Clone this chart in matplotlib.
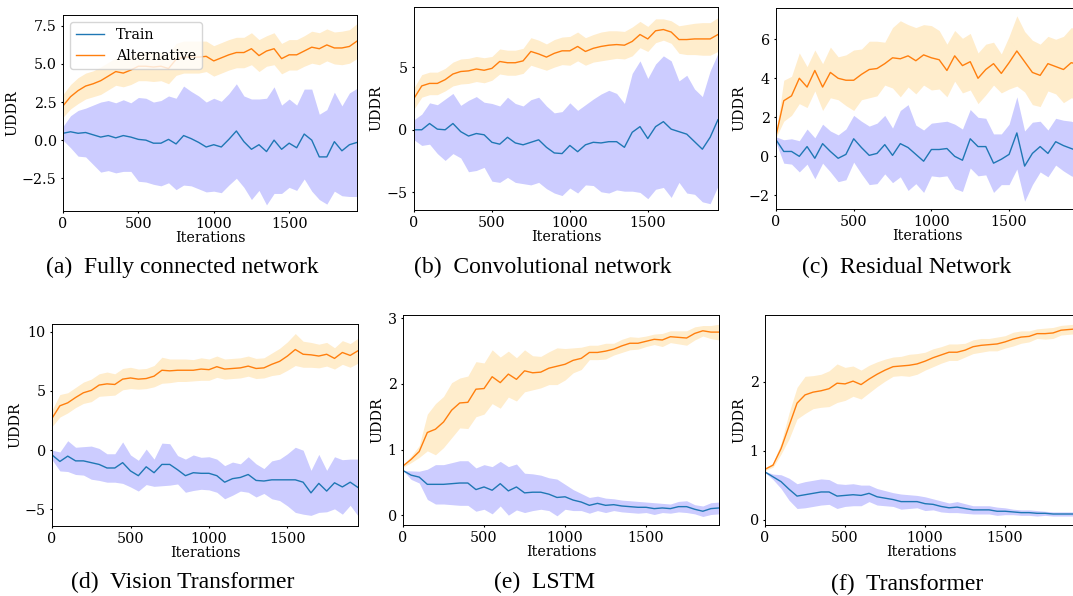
import numpy as np
import matplotlib
matplotlib.use('Agg')
from matplotlib import pyplot as plt

plt.rcParams['font.family'] = 'DejaVu Serif'
plt.rcParams['font.size'] = 10.3
plt.rcParams['xtick.major.size'] = 1.5
plt.rcParams['ytick.major.size'] = 1.5
plt.rcParams['xtick.major.pad'] = 3.0
plt.rcParams['ytick.major.pad'] = 3.0
plt.rcParams['axes.linewidth'] = 0.7

# iterations, one point every 50 steps
iters = np.arange(0, 2000, 50)

# (a) fully connected
fc_train = [0.45, 0.55, 0.45, 0.5, 0.35, 0.2, 0.3, 0.15, 0.3, 0.2, 0.05, 0.0, -0.2, -0.2, 0.05, -0.25, 0.3, 0.1, -0.15, -0.45,
            -0.3, -0.45, 0.05, 0.6, -0.1, -0.6, -0.3, -0.75, 0.0, -0.6, -0.2, -0.5, 0.4, 0.0, -1.1, -1.1, -0.1, -0.7, -0.3, -0.15]
fc_train_sd = [0.45, 1.05, 1.5, 1.6, 1.95, 2.3, 2.3, 2.3, 2.35, 2.25, 2.75, 2.75, 2.7, 2.8, 2.85, 3.0, 3.25, 3.1, 3.05, 2.95,
               3.05, 3.0, 3.0, 3.1, 3.0, 3.3, 3.0, 3.5, 3.5, 2.9, 2.9, 2.8, 2.95, 3.35, 2.8, 3.1, 3.25, 2.95, 3.4, 3.55]
fc_alt = [2.25, 2.85, 3.25, 3.55, 3.7, 3.9, 4.2, 4.5, 4.4, 4.6, 4.85, 4.85, 4.8, 4.85, 4.7, 5.3, 5.45, 5.45, 5.45, 5.5,
          5.2, 5.4, 5.6, 5.75, 5.75, 6.0, 5.55, 5.85, 6.0, 5.35, 5.6, 5.6, 5.85, 6.1, 6.0, 6.25, 6.05, 6.05, 6.15, 6.5]
fc_alt_sd = [0.75, 0.8, 0.85, 0.85, 0.85, 0.9, 0.9, 0.9, 0.9, 0.95, 0.95, 0.95, 0.95, 0.95, 1.0, 1.05, 1.05, 1.05, 1.05, 1.0,
             1.0, 1.0, 1.0, 1.0, 1.0, 1.05, 1.05, 1.0, 1.05, 1.0, 1.0, 1.0, 1.0, 1.05, 1.05, 1.05, 1.05, 1.1, 1.1, 1.15]

# (b) convolutional
cnn_train = [0.0, 0.0, 0.5, 0.05, 0.0, 0.5, -0.15, -0.5, -0.3, -0.4, -1.0, -1.15, -0.6, -1.05, -1.2, -1.0, -0.8, -1.4, -1.85, -1.9,
             -1.25, -1.75, -1.2, -1.0, -1.05, -0.95, -0.95, -1.4, -0.2, 0.25, -0.7, 0.25, 0.65, 0.05, -0.15, -0.35, -0.95, -1.55, -0.6, 0.8]
cnn_train_sd = [0.8, 1.25, 1.65, 1.95, 2.45, 2.4, 2.1, 2.85, 2.95, 2.6, 3.1, 3.05, 3.2, 3.15, 3.1, 3.4, 3.4, 3.3, 3.2, 3.35,
                3.4, 3.3, 3.2, 3.45, 3.9, 4.1, 3.85, 3.5, 4.7, 5.25, 4.8, 5.0, 5.25, 5.45, 4.05, 4.7, 4.2, 4.2, 5.3, 5.3]
cnn_alt = [2.5, 3.5, 3.7, 3.7, 4.0, 4.45, 4.65, 4.7, 4.85, 4.75, 4.9, 5.45, 5.35, 5.35, 5.5, 6.25, 6.05, 5.8, 6.1, 6.3,
           6.3, 6.65, 6.25, 6.5, 6.65, 6.75, 6.8, 6.75, 7.05, 7.6, 7.25, 7.9, 8.0, 7.8, 7.2, 7.2, 7.25, 7.25, 7.25, 7.6]
cnn_alt_sd = [0.85, 0.9, 0.9, 0.9, 0.9, 0.95, 1.0, 1.0, 1.0, 1.0, 0.95, 1.0, 1.0, 1.0, 1.0, 1.1, 1.1, 1.05, 1.1, 1.1,
              1.15, 1.15, 1.1, 1.1, 1.15, 1.15, 1.1, 1.1, 1.15, 1.05, 1.0, 0.95, 0.85, 0.9, 1.1, 1.2, 1.25, 1.3, 1.3, 1.35]

# (c) residual
res_train = [0.85, 0.25, 0.25, 0.0, 0.5, -0.1, 0.65, 0.25, -0.1, 0.1, 0.9, 0.45, 0.05, 0.15, 0.6, 0.05, 0.65, 0.45, 0.1, -0.25,
             0.35, 0.35, 0.4, 0.0, -0.2, 0.9, 0.5, 0.5, -0.35, -0.15, 0.1, 1.2, -0.5, 0.15, 0.5, 0.15, 0.75, 0.55, 0.4, 0.25]
res_train_sd = [0.15, 0.6, 0.65, 0.8, 0.9, 1.05, 1.0, 1.05, 1.2, 1.3, 1.2, 1.35, 1.5, 1.55, 1.5, 1.4, 1.7, 2.2, 1.5, 1.6,
                1.35, 1.4, 1.4, 1.65, 1.6, 1.5, 1.5, 1.45, 1.5, 1.3, 1.55, 1.85, 1.8, 1.6, 1.3, 1.2, 1.2, 1.3, 1.4, 1.4]
res_alt = [1.05, 2.85, 3.1, 4.0, 3.55, 4.4, 3.55, 4.3, 4.0, 3.9, 3.9, 4.2, 4.45, 4.5, 4.75, 5.05, 5.0, 5.15, 4.9, 5.2,
           5.05, 4.95, 4.4, 5.15, 4.65, 4.85, 4.0, 4.45, 4.75, 4.25, 4.8, 5.4, 4.85, 4.3, 4.15, 4.75, 4.6, 4.45, 4.8, 4.7]
res_alt_sd = [0.1, 1.05, 1.0, 1.3, 1.05, 1.05, 1.2, 1.3, 1.1, 1.3, 1.55, 1.3, 1.45, 1.4, 1.1, 1.55, 1.95, 1.6, 1.7, 1.55,
              1.65, 1.5, 1.35, 1.3, 1.4, 1.45, 1.3, 1.3, 1.1, 1.0, 1.35, 1.8, 1.55, 1.65, 1.6, 1.4, 1.4, 1.7, 1.8, 1.8]

# (d) vision transformer
vit_train = [-0.4, -0.95, -0.5, -0.9, -0.9, -1.05, -1.2, -1.5, -1.5, -1.05, -1.75, -2.15, -1.4, -1.9, -1.2, -1.2, -1.65, -2.15, -1.9, -1.95,
             -1.95, -2.15, -2.7, -2.4, -2.3, -2.05, -2.55, -2.6, -2.5, -2.5, -2.5, -2.5, -2.7, -3.6, -2.8, -3.45, -2.75, -3.1, -2.7, -3.15]
vit_train_sd = [0.4, 0.8, 1.3, 1.15, 1.2, 1.4, 1.35, 1.2, 1.2, 1.75, 1.35, 1.3, 1.5, 1.15, 1.8, 1.75, 1.2, 1.4, 1.5, 1.35,
                1.4, 1.4, 1.4, 1.4, 1.15, 1.5, 1.4, 1.05, 1.6, 1.75, 2.2, 2.75, 2.7, 1.9, 2.45, 1.75, 2.2, 2.3, 1.95, 2.4]
vit_alt = [2.7, 3.75, 4.0, 4.45, 4.85, 5.05, 5.5, 5.6, 5.55, 6.0, 6.1, 6.0, 6.05, 6.25, 6.75, 6.7, 6.75, 6.75, 6.75, 6.85,
           6.8, 7.05, 6.85, 6.9, 6.95, 7.1, 6.9, 6.95, 7.25, 7.5, 7.95, 8.5, 8.1, 8.05, 7.95, 8.1, 7.75, 8.25, 8.0, 8.4]
vit_alt_sd = [0.7, 0.95, 0.85, 0.85, 0.9, 0.95, 0.95, 1.0, 0.9, 0.9, 0.9, 0.85, 0.85, 0.9, 1.1, 1.0, 0.95, 0.95, 0.9, 0.95,
              0.9, 0.9, 0.85, 0.85, 0.85, 0.85, 0.85, 0.85, 0.95, 1.1, 1.2, 1.35, 1.1, 1.05, 1.0, 1.0, 0.9, 1.0, 1.0, 1.05]

# (e) LSTM
lstm_train = [0.68, 0.61, 0.58, 0.47, 0.47, 0.47, 0.48, 0.49, 0.49, 0.39, 0.43, 0.38, 0.48, 0.37, 0.43, 0.34, 0.35, 0.35, 0.32, 0.27,
              0.28, 0.23, 0.2, 0.15, 0.18, 0.15, 0.16, 0.14, 0.13, 0.12, 0.12, 0.1, 0.11, 0.1, 0.13, 0.13, 0.09, 0.06, 0.1, 0.11]
lstm_train_sd = [0.0, 0.065, 0.09, 0.23, 0.3, 0.3, 0.32, 0.34, 0.34, 0.33, 0.34, 0.36, 0.34, 0.37, 0.35, 0.3, 0.28, 0.26, 0.25, 0.28,
                 0.19, 0.16, 0.13, 0.12, 0.11, 0.11, 0.09, 0.09, 0.09, 0.09, 0.08, 0.09, 0.07, 0.07, 0.08, 0.09, 0.07, 0.08, 0.09, 0.09]
lstm_alt = [0.75, 0.85, 0.97, 1.26, 1.31, 1.42, 1.6, 1.71, 1.72, 1.92, 1.93, 2.11, 2.02, 2.15, 2.07, 2.2, 2.17, 2.18, 2.24, 2.27,
            2.3, 2.36, 2.39, 2.48, 2.48, 2.5, 2.53, 2.58, 2.62, 2.62, 2.65, 2.68, 2.67, 2.72, 2.71, 2.7, 2.77, 2.81, 2.79, 2.79]
lstm_alt_sd = [0.02, 0.05, 0.09, 0.28, 0.39, 0.39, 0.42, 0.38, 0.4, 0.42, 0.39, 0.41, 0.39, 0.35, 0.33, 0.32, 0.26, 0.24, 0.25, 0.28,
               0.24, 0.19, 0.17, 0.11, 0.11, 0.12, 0.09, 0.1, 0.1, 0.09, 0.08, 0.08, 0.1, 0.09, 0.1, 0.11, 0.1, 0.08, 0.1, 0.12]

# (f) transformer
tf_train = [0.69, 0.62, 0.55, 0.44, 0.34, 0.36, 0.38, 0.4, 0.4, 0.34, 0.35, 0.36, 0.35, 0.38, 0.33, 0.31, 0.29, 0.26, 0.26, 0.26,
            0.23, 0.22, 0.19, 0.17, 0.18, 0.16, 0.14, 0.14, 0.14, 0.12, 0.12, 0.11, 0.1, 0.1, 0.09, 0.09, 0.08, 0.08, 0.08, 0.08]
tf_train_sd = [0.01, 0.04, 0.1, 0.16, 0.18, 0.19, 0.19, 0.19, 0.18, 0.18, 0.16, 0.16, 0.15, 0.12, 0.12, 0.11, 0.1, 0.11, 0.1, 0.09,
               0.1, 0.08, 0.08, 0.07, 0.08, 0.07, 0.06, 0.06, 0.06, 0.06, 0.05, 0.04, 0.04, 0.04, 0.04, 0.03, 0.03, 0.03, 0.03, 0.03]
tf_alt = [0.73, 0.79, 1.03, 1.36, 1.69, 1.81, 1.85, 1.87, 1.9, 1.98, 1.97, 2.01, 1.96, 2.04, 2.11, 2.17, 2.22, 2.23, 2.24, 2.26,
          2.3, 2.35, 2.39, 2.43, 2.43, 2.46, 2.51, 2.53, 2.54, 2.55, 2.58, 2.62, 2.65, 2.66, 2.7, 2.7, 2.71, 2.75, 2.76, 2.77]
tf_alt_sd = [0.02, 0.03, 0.08, 0.19, 0.23, 0.27, 0.24, 0.24, 0.26, 0.28, 0.24, 0.22, 0.21, 0.2, 0.18, 0.16, 0.14, 0.14, 0.16, 0.15,
             0.13, 0.13, 0.12, 0.12, 0.12, 0.1, 0.1, 0.1, 0.09, 0.1, 0.09, 0.1, 0.09, 0.08, 0.07, 0.08, 0.08, 0.07, 0.07, 0.07]

captions = ['(a)  Fully connected network', '(b)  Convolutional network', '(c)  Residual Network',
            '(d)  Vision Transformer', '(e)  LSTM', '(f)  Transformer']

yticks = [[-2.5, 0.0, 2.5, 5.0, 7.5], [-5, 0, 5], [-2, 0, 2, 4, 6], [-5, 0, 5, 10], [0, 1, 2, 3], [0, 1, 2]]
ylims = [(-4.65, 8.22), (-6.4, 9.8), (-2.7, 7.6), (-6.4, 10.65), (-0.15, 3.05), (-0.08, 2.97)]

panels = [(fc_train, fc_train_sd, fc_alt, fc_alt_sd),
          (cnn_train, cnn_train_sd, cnn_alt, cnn_alt_sd),
          (res_train, res_train_sd, res_alt, res_alt_sd),
          (vit_train, vit_train_sd, vit_alt, vit_alt_sd),
          (lstm_train, lstm_train_sd, lstm_alt, lstm_alt_sd),
          (tf_train, tf_train_sd, tf_alt, tf_alt_sd)]

# axes boxes in figure fraction (right column runs off the page like the original)
boxes = [[0.0587, 0.646, 0.274, 0.329],
         [0.3858, 0.6477, 0.2833, 0.3406],
         [0.7232, 0.6493, 0.2824, 0.3372],
         [0.0485, 0.1174, 0.2852, 0.3389],
         [0.3756, 0.1191, 0.2945, 0.3523],
         [0.713, 0.1191, 0.2908, 0.3523]]
cap_pos = [(0.17, 0.552), (0.506, 0.552), (0.845, 0.552), (0.17, 0.022), (0.507, 0.022), (0.845, 0.019)]

fig = plt.figure(figsize=(10.73, 5.96), dpi=100)

for i, (tr, tr_sd, alt, alt_sd) in enumerate(panels):
    ax = fig.add_axes(boxes[i])
    tr = np.array(tr)
    tr_sd = np.array(tr_sd)
    alt = np.array(alt)
    alt_sd = np.array(alt_sd)
    ax.fill_between(iters, tr - tr_sd, tr + tr_sd, color='blue', alpha=0.2, linewidth=0)
    ax.fill_between(iters, alt - alt_sd, alt + alt_sd, color='orange', alpha=0.2, linewidth=0)
    ax.plot(iters, tr, color='tab:blue', linewidth=1.0, label='Train')
    ax.plot(iters, alt, color='tab:orange', linewidth=1.0, label='Alternative')
    ax.set_xlim(0, 1950)
    ax.set_ylim(ylims[i])
    ax.set_yticks(yticks[i])
    ax.set_xticks([0, 500, 1000, 1500])
    ax.set_xlabel('Iterations', labelpad=0)
    ax.set_ylabel('UDDR', labelpad=2)
    if i == 0:
        ax.legend(loc='upper left', fontsize=10.3)
    fig.text(cap_pos[i][0], cap_pos[i][1], captions[i], ha='center', va='center',
             family='Liberation Serif', fontsize=17)

fig.savefig('out.png', dpi=100)
